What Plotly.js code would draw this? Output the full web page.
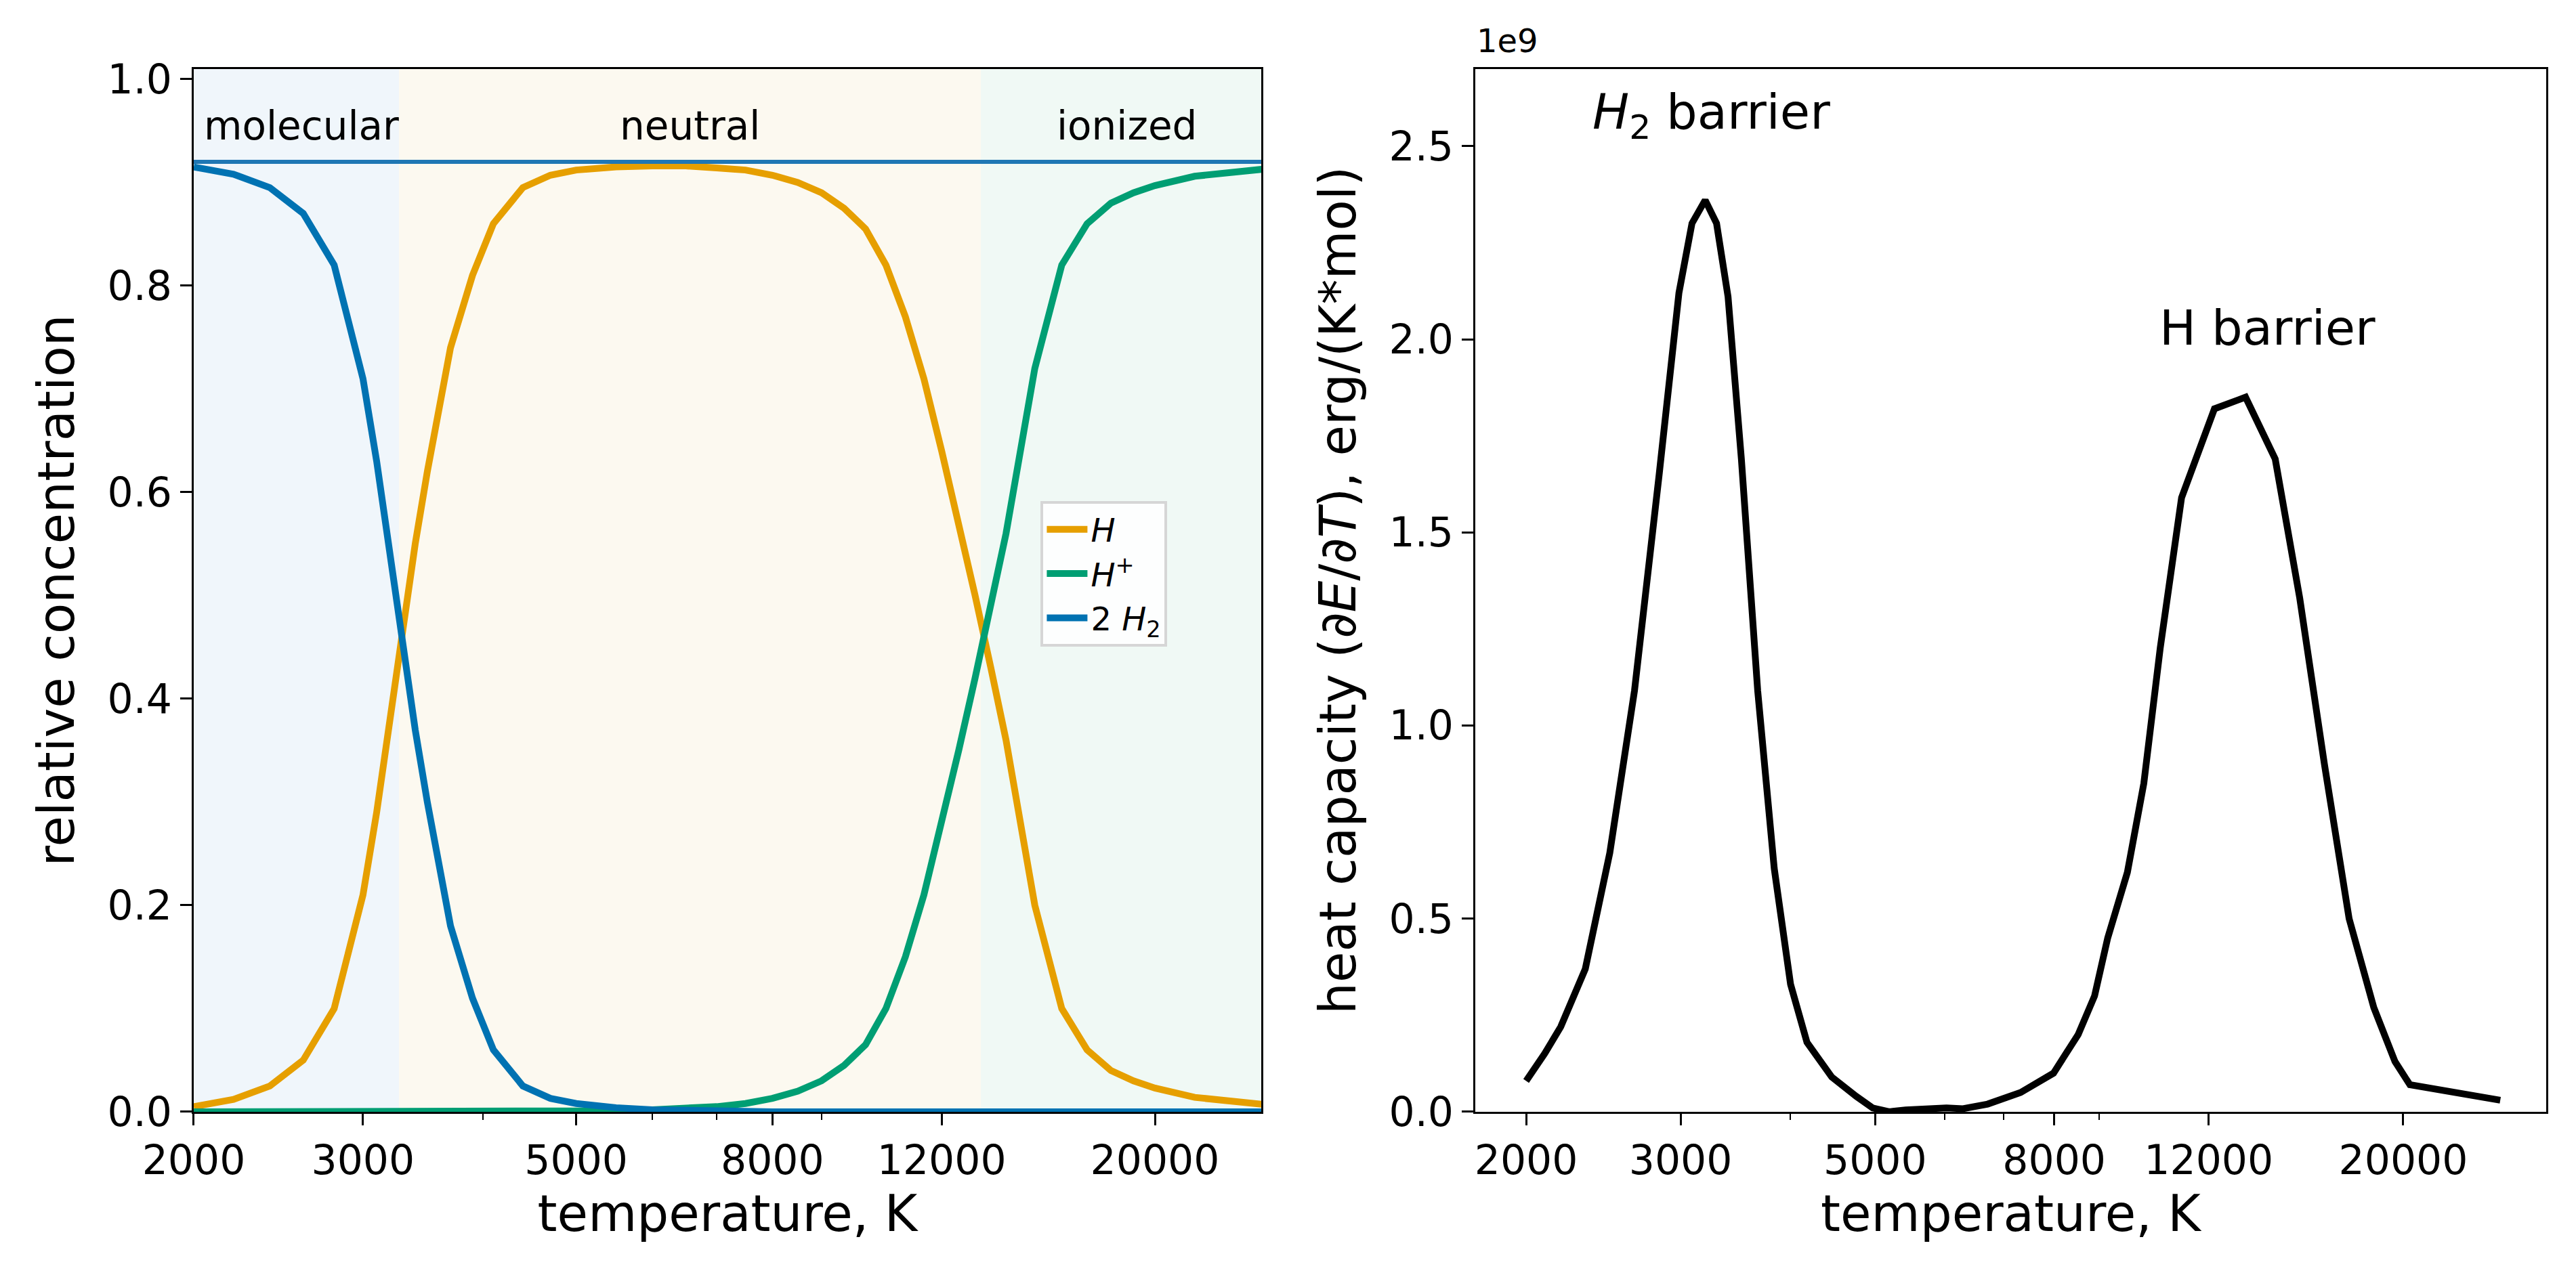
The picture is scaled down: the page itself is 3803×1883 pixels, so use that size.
<!DOCTYPE html>
<html>
<head>
<meta charset="utf-8">
<script src="https://cdn.plot.ly/plotly-3.0.1.min.js"></script>
<style>body{margin:0;background:#fff}#chart{width:3803px;height:1883px}</style>
</head>
<body>
<div id="chart"></div>
<script>
// relative concentrations vs temperature (left panel)
var temps = [2000, 2200, 2400, 2600, 2800, 3000, 3100, 3200, 3300, 3400, 3500, 3700, 3900, 4100, 4400, 4700,
    5000, 5500, 6000, 6500, 7000, 7500, 8000, 8500, 9000, 9500, 10000, 10500, 11000, 11500, 12000, 12500,
    13000, 13500, 14000, 15000, 16000, 17000, 18000, 19000, 20000, 22000, 24000, 26000];
var concH = [0.005, 0.012, 0.025, 0.05, 0.10, 0.21, 0.29, 0.38, 0.47, 0.55, 0.62, 0.74, 0.81, 0.86, 0.895, 0.907,
    0.912, 0.915, 0.916, 0.916, 0.914, 0.912, 0.907, 0.90, 0.89, 0.875, 0.855, 0.82, 0.77, 0.71, 0.64, 0.57,
    0.50, 0.43, 0.36, 0.20, 0.10, 0.06, 0.04, 0.03, 0.023, 0.014, 0.01, 0.007];
var concHplus = [0, 0, 0, 0, 0, 0, 0, 0, 0, 0, 0, 0, 0, 0, 0, 0,
    0, 0.001, 0.002, 0.003, 0.005, 0.008, 0.013, 0.02, 0.03, 0.045, 0.065, 0.10, 0.15, 0.21, 0.28, 0.35,
    0.42, 0.49, 0.56, 0.72, 0.82, 0.86, 0.88, 0.89, 0.897, 0.906, 0.91, 0.913];
var concH2x2 = [0.915, 0.908, 0.895, 0.87, 0.82, 0.71, 0.63, 0.54, 0.45, 0.37, 0.30, 0.18, 0.11, 0.06, 0.025, 0.013,
    0.008, 0.004, 0.002, 0.001, 0.001, 0, 0, 0, 0, 0, 0, 0, 0, 0, 0, 0,
    0, 0, 0, 0, 0, 0, 0, 0, 0, 0, 0, 0];
var totalT = [2000, 26000];
var totalConc = [0.92, 0.92];

// heat capacity (right panel), units of 1e9 erg/(K*mol)
var capT = [2000, 2099, 2190, 2336, 2491, 2658, 2836, 2987, 3091, 3200, 3297, 3398, 3519, 3673, 3836, 4004,
    4180, 4461, 4758, 4968, 5187, 5416, 6030, 6296, 6717, 7324, 7985, 8519, 8894, 9206, 9694, 10121,
    10566, 11176, 12183, 13220, 14290, 15240, 16260, 17350, 18510, 19570, 20350, 25800];
var capE9 = [0.08, 0.15, 0.22, 0.37, 0.67, 1.09, 1.65, 2.12, 2.3, 2.36, 2.3, 2.11, 1.69, 1.09, 0.63, 0.33,
    0.18, 0.09, 0.04, 0.01, 0.0, 0.005, 0.01, 0.008, 0.02, 0.05, 0.1, 0.2, 0.3, 0.45, 0.62, 0.85,
    1.2, 1.59, 1.82, 1.85, 1.69, 1.33, 0.9, 0.5, 0.27, 0.13, 0.07, 0.03];

var tickVals = [2000, 3000, 5000, 8000, 12000, 20000];
var tickText = ['2000', '3000', '5000', '8000', '12000', '20000'];
var minorVals = [4000, 6000, 7000, 9000];

var font = 'DejaVu Sans, sans-serif';
var tickFont = {family: font, size: 60, color: '#000'};
var titleFont = {family: font, size: 74, color: '#000'};

var traces = [
    {x: temps, y: concH, mode: 'lines', name: '<i>H</i>', line: {color: '#e69f00', width: 10}, xaxis: 'x', yaxis: 'y'},
    {x: temps, y: concHplus, mode: 'lines', name: '<i>H</i><sup>+</sup>', line: {color: '#009e73', width: 10}, xaxis: 'x', yaxis: 'y'},
    {x: temps, y: concH2x2, mode: 'lines', name: '2 <i>H</i><sub>2</sub>', line: {color: '#0072b2', width: 10}, xaxis: 'x', yaxis: 'y'},
    {x: totalT, y: totalConc, mode: 'lines', showlegend: false, line: {color: '#1f77b4', width: 6}, xaxis: 'x', yaxis: 'y'},
    {x: capT, y: capE9, mode: 'lines', showlegend: false, line: {color: '#000', width: 10}, xaxis: 'x2', yaxis: 'y2'}
];

function xAxis(domain, range) {
    return {
        domain: domain, type: 'log', range: range,
        tickvals: tickVals, ticktext: tickText, tickfont: tickFont,
        ticks: 'outside', ticklen: 17, tickwidth: 3, tickcolor: '#000',
        minor: {tickvals: minorVals, ticks: 'outside', ticklen: 9, tickwidth: 2, tickcolor: '#000'},
        showline: true, linecolor: '#000', linewidth: 3, mirror: true,
        showgrid: false, zeroline: false,
        title: {text: 'temperature, K', font: titleFont, standoff: 20}
    };
}

var layout = {
    width: 3803, height: 1883,
    margin: {l: 0, r: 0, t: 0, b: 0},
    paper_bgcolor: '#fff', plot_bgcolor: 'rgba(0,0,0,0)',
    showlegend: true,
    legend: {
        x: 0.404, y: 0.607, xanchor: 'left', yanchor: 'top',
        bgcolor: 'rgba(255,255,255,0.85)', bordercolor: '#d6d6d6', borderwidth: 4,
        font: {family: font, size: 48, color: '#000'}, itemwidth: 60
    },
    xaxis: xAxis([0.0752, 0.4896], [Math.log10(2000), Math.log10(25800)]),
    xaxis2: Object.assign(xAxis([0.5727, 0.9884], [Math.log10(1750), Math.log10(29100)]), {anchor: 'y2'}),
    yaxis: {
        domain: [0.128, 0.946], range: [0, 1.01], tickvals: [0, 0.2, 0.4, 0.6, 0.8, 1.0],
        tickformat: '.1f', tickfont: tickFont,
        ticks: 'outside', ticklen: 17, tickwidth: 3, tickcolor: '#000',
        showline: true, linecolor: '#000', linewidth: 3, mirror: true,
        showgrid: false, zeroline: false,
        title: {text: 'relative concentration', font: titleFont, standoff: 25}
    },
    yaxis2: {
        domain: [0.128, 0.946], range: [0, 2.7], anchor: 'x2',
        tickvals: [0, 0.5, 1.0, 1.5, 2.0, 2.5], tickformat: '.1f', tickfont: tickFont,
        ticks: 'outside', ticklen: 17, tickwidth: 3, tickcolor: '#000',
        showline: true, linecolor: '#000', linewidth: 3, mirror: true,
        showgrid: false, zeroline: false,
        title: {text: 'heat capacity (∂<i>E</i>/∂<i>T</i>), erg/(K*mol)', font: titleFont, standoff: 25}
    },
    shapes: [
        {type: 'rect', xref: 'x', yref: 'y domain', x0: 2000, x1: 3270, y0: 0, y1: 1, fillcolor: '#f0f6fb', line: {width: 0}, layer: 'below'},
        {type: 'rect', xref: 'x', yref: 'y domain', x0: 3270, x1: 13180, y0: 0, y1: 1, fillcolor: '#fcf9f0', line: {width: 0}, layer: 'below'},
        {type: 'rect', xref: 'x', yref: 'y domain', x0: 13180, x1: 25800, y0: 0, y1: 1, fillcolor: '#f0f9f5', line: {width: 0}, layer: 'below'}
    ],
    annotations: [
        {text: 'molecular', x: Math.log10(2590), y: 0.955, xref: 'x', yref: 'y', showarrow: false, font: {family: font, size: 58, color: '#000'}},
        {text: 'neutral', x: Math.log10(6560), y: 0.955, xref: 'x', yref: 'y', showarrow: false, font: {family: font, size: 58, color: '#000'}},
        {text: 'ionized', x: Math.log10(18700), y: 0.955, xref: 'x', yref: 'y', showarrow: false, font: {family: font, size: 58, color: '#000'}},
        {text: '<i>H</i><sub>2</sub> barrier', x: Math.log10(3250), y: 2.58, xref: 'x2', yref: 'y2', showarrow: false, font: {family: font, size: 72, color: '#000'}},
        {text: 'H barrier', x: Math.log10(14000), y: 2.03, xref: 'x2', yref: 'y2', showarrow: false, font: {family: font, size: 72, color: '#000'}},
        {text: '1e9', x: 0.5727, y: 0.952, xref: 'paper', yref: 'paper', xanchor: 'left', yanchor: 'bottom', showarrow: false, font: {family: font, size: 48, color: '#000'}}
    ]
};

Plotly.newPlot('chart', traces, layout, {staticPlot: true});
</script>
</body>
</html>
